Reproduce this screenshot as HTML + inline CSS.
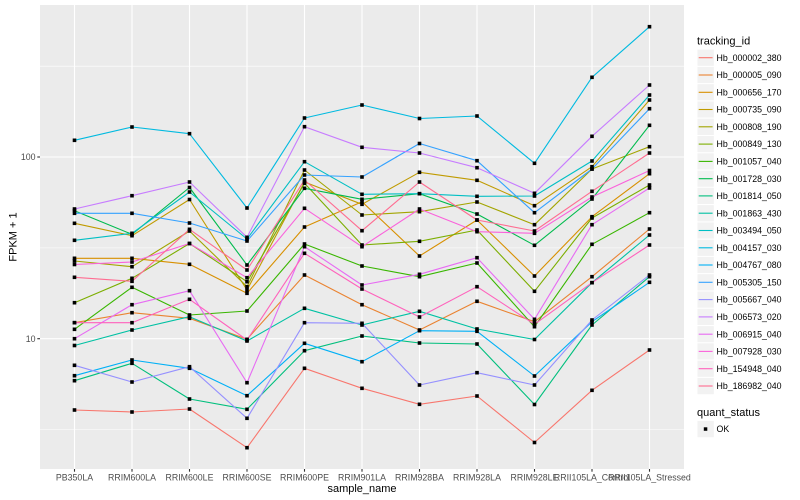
<!DOCTYPE html>
<html><head><meta charset="utf-8"><style>
html,body{margin:0;padding:0;background:#fff;}
svg{display:block;}
text{font-family:"Liberation Sans",Arial,sans-serif;}
</style></head><body>
<svg width="800" height="500" viewBox="0 0 800 500" xmlns="http://www.w3.org/2000/svg">
<defs>
<marker id="m" markerWidth="4" markerHeight="4" refX="2" refY="2" markerUnits="userSpaceOnUse" viewBox="0 0 4 4"><rect x="0.2" y="0.2" width="3.6" height="3.6" fill="#000"/></marker>
</defs>
<rect x="0" y="0" width="800" height="500" fill="#fff"/>
<!-- panel -->
<rect x="40" y="5" width="644" height="464" fill="#EBEBEB"/>
<g stroke="#fff" stroke-width="0.55" fill="none">
<line x1="40" y1="66.2" x2="684" y2="66.2"/>
<line x1="40" y1="247.9" x2="684" y2="247.9"/>
<line x1="40" y1="429.5" x2="684" y2="429.5"/>
</g>
<g stroke="#fff" stroke-width="1.1" fill="none">
<line x1="40" y1="157" x2="684" y2="157"/>
<line x1="40" y1="338.7" x2="684" y2="338.7"/>
<line x1="74.5" y1="5" x2="74.5" y2="469"/>
<line x1="132" y1="5" x2="132" y2="469"/>
<line x1="189.5" y1="5" x2="189.5" y2="469"/>
<line x1="247" y1="5" x2="247" y2="469"/>
<line x1="304.5" y1="5" x2="304.5" y2="469"/>
<line x1="362" y1="5" x2="362" y2="469"/>
<line x1="419.5" y1="5" x2="419.5" y2="469"/>
<line x1="477" y1="5" x2="477" y2="469"/>
<line x1="534.5" y1="5" x2="534.5" y2="469"/>
<line x1="592" y1="5" x2="592" y2="469"/>
<line x1="649.5" y1="5" x2="649.5" y2="469"/>
</g>
<!-- series lines -->
<g fill="none" stroke-width="1.1" stroke-linejoin="round">
<polyline stroke="#F8766D" points="74.5,410 132,412 189.5,409 247,447.7 304.5,368.3 362,388.3 419.5,404.3 477,396 534.5,442.5 592,390.3 649.5,350"/>
<polyline stroke="#EA8331" points="74.5,322.7 132,312.7 189.5,318.3 247,339.3 304.5,275 362,304.7 419.5,330 477,301.3 534.5,321.7 592,276.7 649.5,229"/>
<polyline stroke="#D89000" points="74.5,258.3 132,258.3 189.5,264.3 247,293.3 304.5,227 362,201.7 419.5,256 477,220 534.5,276 592,216.7 649.5,173.7"/>
<polyline stroke="#C09B00" points="74.5,223.3 132,235.7 189.5,199.5 247,290 304.5,182 362,204.3 419.5,172.3 477,180.3 534.5,205.7 592,166.7 649.5,100"/>
<polyline stroke="#A3A500" points="74.5,261 132,266.7 189.5,231 247,286.7 304.5,170 362,215 419.5,211.7 477,202 534.5,224.7 592,169 649.5,146.7"/>
<polyline stroke="#7CAE00" points="74.5,302.7 132,278.3 189.5,243.5 247,281.7 304.5,183.3 362,245 419.5,241.3 477,230 534.5,291.3 592,218 649.5,185"/>
<polyline stroke="#39B600" points="74.5,329.3 132,287.3 189.5,315 247,311 304.5,244 362,266 419.5,276.7 477,263 534.5,326.7 592,244.3 649.5,212.7"/>
<polyline stroke="#00BB4E" points="74.5,210.7 132,234.3 189.5,187.5 247,265 304.5,188.3 362,199.3 419.5,193.7 477,214 534.5,245.3 592,199 649.5,125.3"/>
<polyline stroke="#00BF7D" points="74.5,380.7 132,363.3 189.5,399 247,409.3 304.5,350.7 362,336 419.5,343 477,344 534.5,404.5 592,325 649.5,276.7"/>
<polyline stroke="#00C1A3" points="74.5,345.5 132,330 189.5,316.7 247,341 304.5,308.3 362,325 419.5,311.3 477,329 534.5,339.5 592,282.7 649.5,235"/>
<polyline stroke="#00BFC4" points="74.5,240.3 132,233.3 189.5,192 247,239 304.5,161.7 362,194.3 419.5,193.7 477,196.3 534.5,196 592,161 649.5,95"/>
<polyline stroke="#00BAE0" points="74.5,140.3 132,127 189.5,133.7 247,208 304.5,118 362,105 419.5,118.5 477,116 534.5,163.3 592,77.3 649.5,26.7"/>
<polyline stroke="#00B0F6" points="74.5,375.7 132,360 189.5,368.3 247,395.7 304.5,343.3 362,361.7 419.5,330.7 477,331.3 534.5,376 592,321.7 649.5,282.3"/>
<polyline stroke="#35A2FF" points="74.5,213.3 132,213.3 189.5,223 247,241 304.5,175 362,177 419.5,143.5 477,160.7 534.5,212.7 592,169 649.5,108.7"/>
<polyline stroke="#9590FF" points="74.5,365.3 132,382 189.5,366.7 247,418.3 304.5,322.7 362,323.3 419.5,385 477,372.7 534.5,385 592,320 649.5,275"/>
<polyline stroke="#C77CFF" points="74.5,209 132,195.7 189.5,182 247,237.3 304.5,126.7 362,147.3 419.5,153 477,167.7 534.5,193.3 592,136.3 649.5,85"/>
<polyline stroke="#E76BF3" points="74.5,338.7 132,304.7 189.5,290.7 247,382.7 304.5,246.7 362,285 419.5,274.3 477,257.7 534.5,319.3 592,224.7 649.5,188"/>
<polyline stroke="#FA62DB" points="74.5,264.5 132,262 189.5,243.5 247,277.7 304.5,208.3 362,246.7 419.5,209 477,231.7 534.5,233.3 592,197 649.5,170.5"/>
<polyline stroke="#FF62BC" points="74.5,322.7 132,322.7 189.5,299.3 247,340 304.5,253.3 362,289 419.5,317 477,286.7 534.5,324.3 592,282.7 649.5,245"/>
<polyline stroke="#FF6C91" points="74.5,277.3 132,281.3 189.5,229.3 247,270 304.5,180 362,230.7 419.5,182 477,220 534.5,231 592,191.3 649.5,153"/>
</g>
<!-- points -->
<g fill="none" stroke="none" marker-start="url(#m)" marker-mid="url(#m)" marker-end="url(#m)">
<polyline points="74.5,410 132,412 189.5,409 247,447.7 304.5,368.3 362,388.3 419.5,404.3 477,396 534.5,442.5 592,390.3 649.5,350"/>
<polyline points="74.5,322.7 132,312.7 189.5,318.3 247,339.3 304.5,275 362,304.7 419.5,330 477,301.3 534.5,321.7 592,276.7 649.5,229"/>
<polyline points="74.5,258.3 132,258.3 189.5,264.3 247,293.3 304.5,227 362,201.7 419.5,256 477,220 534.5,276 592,216.7 649.5,173.7"/>
<polyline points="74.5,223.3 132,235.7 189.5,199.5 247,290 304.5,182 362,204.3 419.5,172.3 477,180.3 534.5,205.7 592,166.7 649.5,100"/>
<polyline points="74.5,261 132,266.7 189.5,231 247,286.7 304.5,170 362,215 419.5,211.7 477,202 534.5,224.7 592,169 649.5,146.7"/>
<polyline points="74.5,302.7 132,278.3 189.5,243.5 247,281.7 304.5,183.3 362,245 419.5,241.3 477,230 534.5,291.3 592,218 649.5,185"/>
<polyline points="74.5,329.3 132,287.3 189.5,315 247,311 304.5,244 362,266 419.5,276.7 477,263 534.5,326.7 592,244.3 649.5,212.7"/>
<polyline points="74.5,210.7 132,234.3 189.5,187.5 247,265 304.5,188.3 362,199.3 419.5,193.7 477,214 534.5,245.3 592,199 649.5,125.3"/>
<polyline points="74.5,380.7 132,363.3 189.5,399 247,409.3 304.5,350.7 362,336 419.5,343 477,344 534.5,404.5 592,325 649.5,276.7"/>
<polyline points="74.5,345.5 132,330 189.5,316.7 247,341 304.5,308.3 362,325 419.5,311.3 477,329 534.5,339.5 592,282.7 649.5,235"/>
<polyline points="74.5,240.3 132,233.3 189.5,192 247,239 304.5,161.7 362,194.3 419.5,193.7 477,196.3 534.5,196 592,161 649.5,95"/>
<polyline points="74.5,140.3 132,127 189.5,133.7 247,208 304.5,118 362,105 419.5,118.5 477,116 534.5,163.3 592,77.3 649.5,26.7"/>
<polyline points="74.5,375.7 132,360 189.5,368.3 247,395.7 304.5,343.3 362,361.7 419.5,330.7 477,331.3 534.5,376 592,321.7 649.5,282.3"/>
<polyline points="74.5,213.3 132,213.3 189.5,223 247,241 304.5,175 362,177 419.5,143.5 477,160.7 534.5,212.7 592,169 649.5,108.7"/>
<polyline points="74.5,365.3 132,382 189.5,366.7 247,418.3 304.5,322.7 362,323.3 419.5,385 477,372.7 534.5,385 592,320 649.5,275"/>
<polyline points="74.5,209 132,195.7 189.5,182 247,237.3 304.5,126.7 362,147.3 419.5,153 477,167.7 534.5,193.3 592,136.3 649.5,85"/>
<polyline points="74.5,338.7 132,304.7 189.5,290.7 247,382.7 304.5,246.7 362,285 419.5,274.3 477,257.7 534.5,319.3 592,224.7 649.5,188"/>
<polyline points="74.5,264.5 132,262 189.5,243.5 247,277.7 304.5,208.3 362,246.7 419.5,209 477,231.7 534.5,233.3 592,197 649.5,170.5"/>
<polyline points="74.5,322.7 132,322.7 189.5,299.3 247,340 304.5,253.3 362,289 419.5,317 477,286.7 534.5,324.3 592,282.7 649.5,245"/>
<polyline points="74.5,277.3 132,281.3 189.5,229.3 247,270 304.5,180 362,230.7 419.5,182 477,220 534.5,231 592,191.3 649.5,153"/>
</g>
<!-- axes ticks -->
<g stroke="#333" stroke-width="1.1">
<line x1="37.3" y1="157" x2="40" y2="157"/>
<line x1="37.3" y1="338.7" x2="40" y2="338.7"/>
<line x1="74.5" y1="469" x2="74.5" y2="471.7"/>
<line x1="132" y1="469" x2="132" y2="471.7"/>
<line x1="189.5" y1="469" x2="189.5" y2="471.7"/>
<line x1="247" y1="469" x2="247" y2="471.7"/>
<line x1="304.5" y1="469" x2="304.5" y2="471.7"/>
<line x1="362" y1="469" x2="362" y2="471.7"/>
<line x1="419.5" y1="469" x2="419.5" y2="471.7"/>
<line x1="477" y1="469" x2="477" y2="471.7"/>
<line x1="534.5" y1="469" x2="534.5" y2="471.7"/>
<line x1="592" y1="469" x2="592" y2="471.7"/>
<line x1="649.5" y1="469" x2="649.5" y2="471.7"/>
</g>
<g font-size="8.8" fill="#4D4D4D">
<text x="35.5" y="160.1" text-anchor="end">100</text>
<text x="35.5" y="341.8" text-anchor="end">10</text>
</g>
<g font-size="8.8" fill="#4D4D4D" text-anchor="middle">
<text x="74.5" y="480.6">PB350LA</text>
<text x="132" y="480.6">RRIM600LA</text>
<text x="189.5" y="480.6">RRIM600LE</text>
<text x="247" y="480.6">RRIM600SE</text>
<text x="304.5" y="480.6">RRIM600PE</text>
<text x="362" y="480.6">RRIM901LA</text>
<text x="419.5" y="480.6">RRIM928BA</text>
<text x="477" y="480.6">RRIM928LA</text>
<text x="534.5" y="480.6">RRIM928LE</text>
<text x="592" y="480.6">RRII105LA_Control</text>
<text x="649.5" y="480.6">RRII105LA_Stressed</text>
</g>
<text x="362" y="492" font-size="11" text-anchor="middle" fill="#000">sample_name</text>
<text transform="translate(16.5,237) rotate(-90)" font-size="11" text-anchor="middle" fill="#000">FPKM + 1</text>
<!-- legend -->
<text x="697" y="44.5" font-size="11" fill="#000">tracking_id</text>
<g stroke="#fff" stroke-width="1" fill="#F2F2F2">
<rect x="697" y="49.1" width="17.3" height="17.3"/>
<rect x="697" y="66.4" width="17.3" height="17.3"/>
<rect x="697" y="83.7" width="17.3" height="17.3"/>
<rect x="697" y="100.9" width="17.3" height="17.3"/>
<rect x="697" y="118.2" width="17.3" height="17.3"/>
<rect x="697" y="135.5" width="17.3" height="17.3"/>
<rect x="697" y="152.8" width="17.3" height="17.3"/>
<rect x="697" y="170.1" width="17.3" height="17.3"/>
<rect x="697" y="187.3" width="17.3" height="17.3"/>
<rect x="697" y="204.6" width="17.3" height="17.3"/>
<rect x="697" y="221.9" width="17.3" height="17.3"/>
<rect x="697" y="239.2" width="17.3" height="17.3"/>
<rect x="697" y="256.4" width="17.3" height="17.3"/>
<rect x="697" y="273.7" width="17.3" height="17.3"/>
<rect x="697" y="291.0" width="17.3" height="17.3"/>
<rect x="697" y="308.3" width="17.3" height="17.3"/>
<rect x="697" y="325.6" width="17.3" height="17.3"/>
<rect x="697" y="342.8" width="17.3" height="17.3"/>
<rect x="697" y="360.1" width="17.3" height="17.3"/>
<rect x="697" y="377.4" width="17.3" height="17.3"/>
<rect x="697" y="420.4" width="17.3" height="17.3"/>
</g>
<g stroke-width="1.1">
<line x1="698.7" x2="712.6" y1="57.7" y2="57.7" stroke="#F8766D"/>
<line x1="698.7" x2="712.6" y1="75.0" y2="75.0" stroke="#EA8331"/>
<line x1="698.7" x2="712.6" y1="92.3" y2="92.3" stroke="#D89000"/>
<line x1="698.7" x2="712.6" y1="109.5" y2="109.5" stroke="#C09B00"/>
<line x1="698.7" x2="712.6" y1="126.8" y2="126.8" stroke="#A3A500"/>
<line x1="698.7" x2="712.6" y1="144.1" y2="144.1" stroke="#7CAE00"/>
<line x1="698.7" x2="712.6" y1="161.4" y2="161.4" stroke="#39B600"/>
<line x1="698.7" x2="712.6" y1="178.7" y2="178.7" stroke="#00BB4E"/>
<line x1="698.7" x2="712.6" y1="195.9" y2="195.9" stroke="#00BF7D"/>
<line x1="698.7" x2="712.6" y1="213.2" y2="213.2" stroke="#00C1A3"/>
<line x1="698.7" x2="712.6" y1="230.5" y2="230.5" stroke="#00BFC4"/>
<line x1="698.7" x2="712.6" y1="247.8" y2="247.8" stroke="#00BAE0"/>
<line x1="698.7" x2="712.6" y1="265.0" y2="265.0" stroke="#00B0F6"/>
<line x1="698.7" x2="712.6" y1="282.3" y2="282.3" stroke="#35A2FF"/>
<line x1="698.7" x2="712.6" y1="299.6" y2="299.6" stroke="#9590FF"/>
<line x1="698.7" x2="712.6" y1="316.9" y2="316.9" stroke="#C77CFF"/>
<line x1="698.7" x2="712.6" y1="334.2" y2="334.2" stroke="#E76BF3"/>
<line x1="698.7" x2="712.6" y1="351.4" y2="351.4" stroke="#FA62DB"/>
<line x1="698.7" x2="712.6" y1="368.7" y2="368.7" stroke="#FF62BC"/>
<line x1="698.7" x2="712.6" y1="386.0" y2="386.0" stroke="#FF6C91"/>
</g>
<g font-size="8.8" fill="#000">
<text x="716.5" y="60.8">Hb_000002_380</text>
<text x="716.5" y="78.1">Hb_000005_090</text>
<text x="716.5" y="95.4">Hb_000656_170</text>
<text x="716.5" y="112.6">Hb_000735_090</text>
<text x="716.5" y="129.9">Hb_000808_190</text>
<text x="716.5" y="147.2">Hb_000849_130</text>
<text x="716.5" y="164.5">Hb_001057_040</text>
<text x="716.5" y="181.8">Hb_001728_030</text>
<text x="716.5" y="199.0">Hb_001814_050</text>
<text x="716.5" y="216.3">Hb_001863_430</text>
<text x="716.5" y="233.6">Hb_003494_050</text>
<text x="716.5" y="250.9">Hb_004157_030</text>
<text x="716.5" y="268.1">Hb_004767_080</text>
<text x="716.5" y="285.4">Hb_005305_150</text>
<text x="716.5" y="302.7">Hb_005667_040</text>
<text x="716.5" y="320.0">Hb_006573_020</text>
<text x="716.5" y="337.3">Hb_006915_040</text>
<text x="716.5" y="354.5">Hb_007928_030</text>
<text x="716.5" y="371.8">Hb_154948_040</text>
<text x="716.5" y="389.1">Hb_186982_040</text>
</g>
<text x="697" y="416" font-size="11" fill="#000">quant_status</text>
<rect x="703.8" y="427.3" width="3.5" height="3.5" fill="#000"/>
<text x="716.5" y="432.1" font-size="8.8" fill="#000">OK</text>
</svg>
</body></html>
